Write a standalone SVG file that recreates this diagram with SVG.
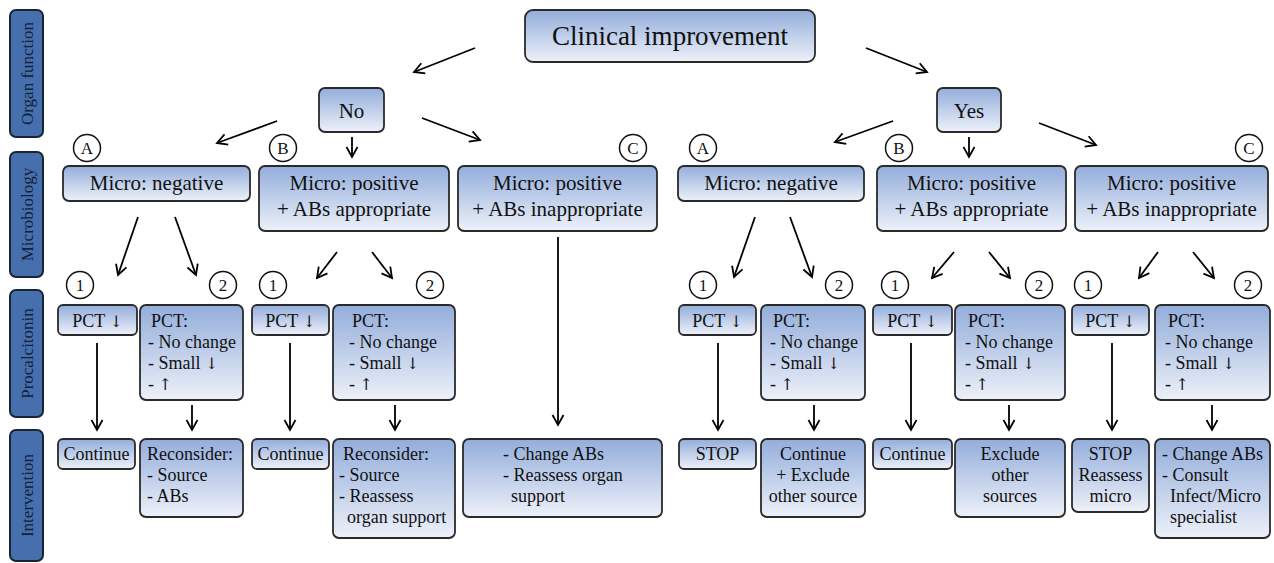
<svg xmlns="http://www.w3.org/2000/svg" width="1274" height="563" viewBox="0 0 1274 563">
<defs>
<linearGradient id="g" x1="0" y1="0" x2="0" y2="1">
<stop offset="0" stop-color="#93addb"/>
<stop offset="1" stop-color="#edf1f9"/>
</linearGradient>
<marker id="ah" markerUnits="userSpaceOnUse" markerWidth="14" markerHeight="14" viewBox="0 0 14 14" refX="12" refY="7" orient="auto">
<path d="M2,1.5 L12,7 L2,12.5" fill="none" stroke="#000" stroke-width="1.8" stroke-linejoin="miter"/>
</marker>
<style>
.bx{fill:url(#g);stroke:#2a2a2a;stroke-width:1.8}
.sb{fill:#4670ad;stroke:#1b2436;stroke-width:2}
text{fill:#111}
.st{fill:#14213a;font-size:17px;text-anchor:middle}
.c{text-anchor:middle}
.f27{font-size:27px}
.f21{font-size:21px}
.f18{font-size:18px}
.f17{font-size:17px}
.a{font-family:'DejaVu Serif','DejaVu Sans',serif;font-size:16px;fill:#111}
.cr{fill:#fff;stroke:#111;stroke-width:1.5}
.ar{stroke:#000;stroke-width:1.8;fill:none;marker-end:url(#ah)}
</style>
</defs>
<rect width="1274" height="563" fill="#fff"/>
<g font-family="'Liberation Serif', 'DejaVu Serif', serif">
<g id="sidebar">
<rect class="sb" x="10" y="10" width="33" height="127" rx="6"/>
<text class="st" transform="translate(32.5,73.5) rotate(-90)">Organ function</text>
<rect class="sb" x="10" y="152" width="33" height="125" rx="6"/>
<text class="st" transform="translate(32.5,214.5) rotate(-90)">Microbiology</text>
<rect class="sb" x="10" y="290" width="33" height="127" rx="6"/>
<text class="st" transform="translate(32.5,353.5) rotate(-90)">Procalcitonin</text>
<rect class="sb" x="10" y="430" width="33" height="131" rx="6"/>
<text class="st" transform="translate(32.5,495.5) rotate(-90)">Intervention</text>
</g>

<g id="clinical">
<rect class="bx" x="525" y="10" width="290" height="52" rx="8"/>
<text class="c f27" x="670" y="45">Clinical improvement</text>
</g>
<g id="no">
<rect class="bx" x="319" y="88" width="65" height="44" rx="6"/>
<text class="c f21" x="351.5" y="118">No</text>
</g>
<g id="yes">
<rect class="bx" x="937" y="88" width="64" height="44" rx="6"/>
<text class="c f21" x="969" y="118">Yes</text>
</g>

<g id="labels">
<circle class="cr" cx="87" cy="148" r="13.5"/><text class="c f17" x="87" y="154">A</text>
<circle class="cr" cx="283" cy="148" r="13.5"/><text class="c f17" x="283" y="154">B</text>
<circle class="cr" cx="633" cy="148" r="13.5"/><text class="c f17" x="633" y="154">C</text>
<circle class="cr" cx="703" cy="148" r="13.5"/><text class="c f17" x="703" y="154">A</text>
<circle class="cr" cx="899" cy="148" r="13.5"/><text class="c f17" x="899" y="154">B</text>
<circle class="cr" cx="1249" cy="148" r="13.5"/><text class="c f17" x="1249" y="154">C</text>
<circle class="cr" cx="80" cy="285" r="13.5"/><text class="c f17" x="80" y="291">1</text>
<circle class="cr" cx="223" cy="285" r="13.5"/><text class="c f17" x="223" y="291">2</text>
<circle class="cr" cx="273" cy="285" r="13.5"/><text class="c f17" x="273" y="291">1</text>
<circle class="cr" cx="430" cy="285" r="13.5"/><text class="c f17" x="430" y="291">2</text>
<circle class="cr" cx="703" cy="285" r="13.5"/><text class="c f17" x="703" y="291">1</text>
<circle class="cr" cx="839" cy="285" r="13.5"/><text class="c f17" x="839" y="291">2</text>
<circle class="cr" cx="895" cy="285" r="13.5"/><text class="c f17" x="895" y="291">1</text>
<circle class="cr" cx="1039" cy="285" r="13.5"/><text class="c f17" x="1039" y="291">2</text>
<circle class="cr" cx="1088" cy="285" r="13.5"/><text class="c f17" x="1088" y="291">1</text>
<circle class="cr" cx="1248" cy="285" r="13.5"/><text class="c f17" x="1248" y="291">2</text>
</g>

<g id="micro-no-a">
<rect class="bx" x="63" y="166" width="187" height="35" rx="6"/>
<text class="c f21" x="156.5" y="190">Micro: negative</text>
</g>
<g id="micro-no-b">
<rect class="bx" x="259" y="166" width="190" height="65" rx="6"/>
<text class="c f21" x="354" y="190">Micro: positive</text>
<text class="c f21" x="354" y="216">+ ABs appropriate</text>
</g>
<g id="micro-no-c">
<rect class="bx" x="458" y="166" width="199" height="65" rx="6"/>
<text class="c f21" x="557.5" y="190">Micro: positive</text>
<text class="c f21" x="557.5" y="216">+ ABs inappropriate</text>
</g>
<g id="micro-yes-a">
<rect class="bx" x="678" y="166" width="186" height="35" rx="6"/>
<text class="c f21" x="771" y="190">Micro: negative</text>
</g>
<g id="micro-yes-b">
<rect class="bx" x="877" y="166" width="189" height="65" rx="6"/>
<text class="c f21" x="971.5" y="190">Micro: positive</text>
<text class="c f21" x="971.5" y="216">+ ABs appropriate</text>
</g>
<g id="micro-yes-c">
<rect class="bx" x="1075" y="166" width="193" height="65" rx="6"/>
<text class="c f21" x="1171.5" y="190">Micro: positive</text>
<text class="c f21" x="1171.5" y="216">+ ABs inappropriate</text>
</g>

<g id="pct-na1"><rect class="bx" x="58" y="305" width="79" height="30" rx="5"/><text class="c f18" x="97.5" y="327">PCT <tspan class="a">↓</tspan></text></g>
<g id="pct-na2"><rect class="bx" x="140" y="305" width="103" height="95" rx="6"/>
<text class="f18" x="151" y="327">PCT:</text><text class="f18" x="148" y="348">- No change</text><text class="f18" x="148" y="369">- Small <tspan class="a">↓</tspan></text><text class="f18" x="148" y="390">- <tspan class="a">↑</tspan></text></g>
<g id="pct-nb1"><rect class="bx" x="252" y="305" width="77" height="30" rx="5"/><text class="c f18" x="290.5" y="327">PCT <tspan class="a">↓</tspan></text></g>
<g id="pct-nb2"><rect class="bx" x="333" y="305" width="122" height="95" rx="6"/>
<text class="f18" x="352" y="327">PCT:</text><text class="f18" x="349" y="348">- No change</text><text class="f18" x="349" y="369">- Small <tspan class="a">↓</tspan></text><text class="f18" x="349" y="390">- <tspan class="a">↑</tspan></text></g>
<g id="pct-ya1"><rect class="bx" x="679" y="305" width="77" height="30" rx="5"/><text class="c f18" x="717.5" y="327">PCT <tspan class="a">↓</tspan></text></g>
<g id="pct-ya2"><rect class="bx" x="761" y="305" width="104" height="95" rx="6"/>
<text class="f18" x="773" y="327">PCT:</text><text class="f18" x="770" y="348">- No change</text><text class="f18" x="770" y="369">- Small <tspan class="a">↓</tspan></text><text class="f18" x="770" y="390">- <tspan class="a">↑</tspan></text></g>
<g id="pct-yb1"><rect class="bx" x="873" y="305" width="79" height="30" rx="5"/><text class="c f18" x="912.5" y="327">PCT <tspan class="a">↓</tspan></text></g>
<g id="pct-yb2"><rect class="bx" x="955" y="305" width="110" height="95" rx="6"/>
<text class="f18" x="968" y="327">PCT:</text><text class="f18" x="965" y="348">- No change</text><text class="f18" x="965" y="369">- Small <tspan class="a">↓</tspan></text><text class="f18" x="965" y="390">- <tspan class="a">↑</tspan></text></g>
<g id="pct-yc1"><rect class="bx" x="1072" y="305" width="77" height="30" rx="5"/><text class="c f18" x="1110.5" y="327">PCT <tspan class="a">↓</tspan></text></g>
<g id="pct-yc2"><rect class="bx" x="1155" y="305" width="115" height="95" rx="6"/>
<text class="f18" x="1168" y="327">PCT:</text><text class="f18" x="1165" y="348">- No change</text><text class="f18" x="1165" y="369">- Small <tspan class="a">↓</tspan></text><text class="f18" x="1165" y="390">- <tspan class="a">↑</tspan></text></g>

<g id="int-na1"><rect class="bx" x="58" y="439" width="77" height="30" rx="5"/><text class="c f18" x="96.5" y="460">Continue</text></g>
<g id="int-na2"><rect class="bx" x="140" y="439" width="103" height="78" rx="6"/>
<text class="f18" x="147" y="460">Reconsider:</text><text class="f18" x="147" y="481">- Source</text><text class="f18" x="147" y="502">- ABs</text></g>
<g id="int-nb1"><rect class="bx" x="252" y="439" width="77" height="30" rx="5"/><text class="c f18" x="290.5" y="460">Continue</text></g>
<g id="int-nb2"><rect class="bx" x="333" y="439" width="122" height="99" rx="6"/>
<text class="f18" x="343" y="460">Reconsider:</text><text class="f18" x="339" y="481">- Source</text><text class="f18" x="339" y="502">- Reassess</text><text class="f18" x="347" y="523">organ support</text></g>
<g id="int-nc"><rect class="bx" x="463" y="439" width="199" height="78" rx="6"/>
<text class="f18" x="503" y="460">- Change ABs</text><text class="f18" x="503" y="481">- Reassess organ</text><text class="f18" x="511" y="502">support</text></g>
<g id="int-ya1"><rect class="bx" x="679" y="439" width="77" height="30" rx="5"/><text class="c f18" x="717.5" y="460">STOP</text></g>
<g id="int-ya2"><rect class="bx" x="761" y="439" width="104" height="78" rx="6"/>
<text class="c f18" x="813" y="460">Continue</text><text class="c f18" x="813" y="481">+ Exclude</text><text class="c f18" x="813" y="502">other source</text></g>
<g id="int-yb1"><rect class="bx" x="873" y="439" width="79" height="30" rx="5"/><text class="c f18" x="912.5" y="460">Continue</text></g>
<g id="int-yb2"><rect class="bx" x="955" y="439" width="110" height="78" rx="6"/>
<text class="c f18" x="1010" y="460">Exclude</text><text class="c f18" x="1010" y="481">other</text><text class="c f18" x="1010" y="502">sources</text></g>
<g id="int-yc1"><rect class="bx" x="1072" y="439" width="77" height="73" rx="6"/>
<text class="c f18" x="1110.5" y="460">STOP</text><text class="c f18" x="1110.5" y="481">Reassess</text><text class="c f18" x="1110.5" y="502">micro</text></g>
<g id="int-yc2"><rect class="bx" x="1155" y="439" width="115" height="99" rx="6"/>
<text class="f18" x="1162" y="460">- Change ABs</text><text class="f18" x="1162" y="481">- Consult</text><text class="f18" x="1170" y="502">Infect/Micro</text><text class="f18" x="1170" y="523">specialist</text></g>
</g>

<g id="connectors">
<line class="ar" x1="475" y1="48" x2="414" y2="72"/>
<line class="ar" x1="866" y1="48" x2="927" y2="72"/>
<line class="ar" x1="277" y1="121" x2="217" y2="143"/>
<line class="ar" x1="352" y1="137" x2="352" y2="157"/>
<line class="ar" x1="422" y1="118" x2="480" y2="140"/>
<line class="ar" x1="893" y1="121" x2="835" y2="142"/>
<line class="ar" x1="969" y1="137" x2="969" y2="157"/>
<line class="ar" x1="1039" y1="123" x2="1096" y2="145"/>
<line class="ar" x1="138" y1="217" x2="118" y2="275"/>
<line class="ar" x1="175" y1="217" x2="196" y2="275"/>
<line class="ar" x1="337" y1="252" x2="317" y2="278"/>
<line class="ar" x1="372" y1="252" x2="392" y2="278"/>
<line class="ar" x1="558" y1="237" x2="558" y2="425"/>
<line class="ar" x1="755" y1="217" x2="734" y2="277"/>
<line class="ar" x1="790" y1="217" x2="812" y2="277"/>
<line class="ar" x1="954" y1="252" x2="932" y2="278"/>
<line class="ar" x1="989" y1="252" x2="1010" y2="278"/>
<line class="ar" x1="1158" y1="252" x2="1139" y2="278"/>
<line class="ar" x1="1193" y1="252" x2="1214" y2="278"/>
<line class="ar" x1="97" y1="343" x2="97" y2="430"/>
<line class="ar" x1="290" y1="343" x2="290" y2="430"/>
<line class="ar" x1="718" y1="343" x2="718" y2="430"/>
<line class="ar" x1="911" y1="343" x2="911" y2="430"/>
<line class="ar" x1="1112" y1="343" x2="1112" y2="430"/>
<line class="ar" x1="192" y1="405" x2="192" y2="430"/>
<line class="ar" x1="395" y1="405" x2="395" y2="430"/>
<line class="ar" x1="814" y1="405" x2="814" y2="430"/>
<line class="ar" x1="1009" y1="405" x2="1009" y2="430"/>
<line class="ar" x1="1212" y1="405" x2="1212" y2="430"/>
</g>
</svg>
